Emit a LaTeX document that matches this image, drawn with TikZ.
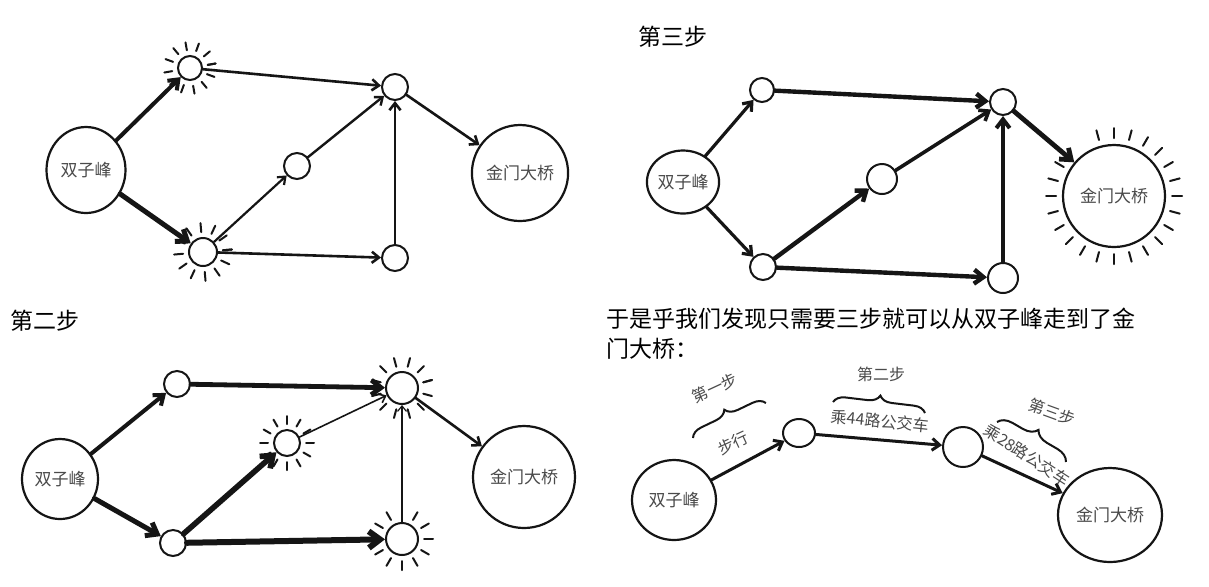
\documentclass[tikz,border=0pt]{standalone}
\usepackage{fontspec}
\newfontfamily\cjk{Noto Sans CJK SC}
\usepackage{tikz}
\usetikzlibrary{positioning, shapes.geometric, arrows.meta, calc, decorations.pathreplacing}
\usepackage{xcolor}
\definecolor{ink}{HTML}{151515}
\definecolor{pencil}{HTML}{4A4A4A}
\newcommand{\sunrays}[4]{\foreach \a in {#4} \draw[ray] (#1.center) ++(\a:#2) -- ++(\a:#3);}

\begin{document}
\begin{tikzpicture}[x=0.5pt, y=-0.5pt,
  place/.style={circle, draw=ink, line width=1pt, inner sep=0pt, fill=white},
  town/.style={ellipse, draw=ink, line width=1.1pt, inner sep=0pt, text=pencil, font=\cjk\fontsize{8.5}{10}\selectfont},
  hop/.style={draw=ink, line cap=round, line width=#1, -{Straight Barb[length=2pt 1.2, width=3.5pt 1.6]}},
  hop/.default=1.2pt,
  ray/.style={draw=ink, line width=1pt, line cap=round},
  steptitle/.style={font=\cjk\fontsize{11.5}{15}\selectfont, inner sep=0pt},
  hand/.style={font=\cjk\fontsize{8}{9}\selectfont, text=pencil, inner sep=0pt},
  curly/.style={draw=ink, line width=1pt, decorate, decoration={brace, amplitude=#1}},
]
\useasboundingbox[fill=white] (0,0) rectangle (1209,586);

% step one (top left)
\node[town, minimum width=39.5pt, minimum height=43pt] (a-peak) at (86,170) {双子峰};
\node[place, minimum size=12pt] (a-up) at (190,68) {};
\node[place, minimum size=14pt] (a-low) at (203,252) {};
\node[place, minimum size=13pt] (a-mid) at (297,166) {};
\node[place, minimum size=13pt] (a-hub) at (395,87) {};
\node[place, minimum size=13pt] (a-corner) at (395,258) {};
\node[town, minimum size=48pt] (a-bridge) at (520,173) {金门大桥};
\sunrays{a-up}{9pt}{4pt}{10,40,...,370}
\sunrays{a-low}{10pt}{4.5pt}{5,35,...,365}
\draw[hop=2pt] (a-peak) -- (a-up);
\draw[hop=2.5pt] (a-peak) -- (a-low);
\draw[hop=1.3pt] (a-up) -- (a-hub);
\draw[hop=1.1pt] (a-low) -- (a-mid);
\draw[hop=1.3pt] (a-low) -- (a-corner);
\draw[hop=1.2pt] (a-mid) -- (a-hub);
\draw[hop=1.3pt] (a-corner) -- (a-hub);
\draw[hop=1.3pt] (a-hub) -- (a-bridge);

% step two (bottom left)
\node[steptitle] (b-title) at (45,321) {第二步};
\node[town, minimum width=38pt, minimum height=40pt] (b-peak) at (60,479) {双子峰};
\node[place, minimum size=13pt] (b-up) at (177,384) {};
\node[place, minimum size=13pt] (b-low) at (173,543) {};
\node[place, minimum size=13pt] (b-mid) at (287,443) {};
\node[place, minimum size=16pt] (b-hub) at (402,388) {};
\node[place, minimum size=16pt] (b-corner) at (402,539) {};
\node[town, minimum size=51pt] (b-bridge) at (524,477) {金门大桥};
\sunrays{b-mid}{9.5pt}{4pt}{0,30,...,330}
\sunrays{b-hub}{11pt}{4.5pt}{15,45,...,375}
\sunrays{b-corner}{11pt}{4.5pt}{0,30,...,330}
\draw[hop=2pt] (b-peak) -- (b-up);
\draw[hop=2.5pt] (b-peak) -- (b-low);
\draw[hop=2.4pt] (b-up) -- (b-hub);
\draw[hop=2.8pt] (b-low) -- (b-mid);
\draw[hop=3pt] (b-low) -- (b-corner);
\draw[hop=0.8pt] (b-mid) -- (b-hub);
\draw[hop=0.6pt] (b-corner) -- (b-hub);
\draw[hop=1.3pt] (b-hub) -- (b-bridge);

% step three (top right)
\node[steptitle] (c-title) at (673,37) {第三步};
\node[town, minimum width=28.5pt, minimum height=31.5pt] (c-peak) at (683,182) {双子峰};
\node[place, minimum size=12pt] (c-up) at (762,90) {};
\node[place, minimum size=13pt] (c-low) at (763,267) {};
\node[place, minimum size=15pt] (c-mid) at (882,179) {};
\node[place, minimum size=13pt] (c-hub) at (1003,102) {};
\node[place, minimum size=15pt] (c-corner) at (1003,278) {};
\node[town, minimum size=51pt] (c-bridge) at (1114,196) {金门大桥};
\sunrays{c-bridge}{29pt}{5pt}{150,165,...,465}
\draw[hop=1.6pt] (c-peak) -- (c-up);
\draw[hop=1.6pt] (c-peak) -- (c-low);
\draw[hop=2.2pt] (c-up) -- (c-hub);
\draw[hop=2.2pt] (c-low) -- (c-mid);
\draw[hop=2.2pt] (c-low) -- (c-corner);
\draw[hop=1.8pt] (c-mid) -- (c-hub);
\draw[hop=2pt] (c-corner) -- (c-hub);
\draw[hop=2.4pt] (c-hub) -- (c-bridge);

% the whole route (bottom right)
\node[steptitle, anchor=north west, align=left] (d-text) at (606,308)
  {于是乎我们发现只需要三步就可以从双子峰走到了金\\门大桥：};
\node[town, minimum width=42pt, minimum height=40pt] (d-peak) at (674,500) {双子峰};
\node[place, minimum width=16pt, minimum height=14pt, ellipse] (d-stop1) at (799,433) {};
\node[place, minimum size=20pt] (d-stop2) at (963,447) {};
\node[town, minimum width=52pt, minimum height=47pt] (d-bridge) at (1110,515) {金门大桥};
\draw[hop=1.5pt] (d-peak) -- (d-stop1);
\draw[hop=1.5pt] (d-stop1) -- (d-stop2);
\draw[hop=1.5pt] (d-stop2) -- (d-bridge);
\node[hand, rotate=25] (d-walk) at (733,443) {步行};
\node[hand, rotate=-6] (d-bus44) at (880,421) {乘44路公交车};
\node[hand, rotate=-33] (d-bus28) at (1027,455) {乘28路公交车};
\coordinate (d-br1a) at (693,438);
\coordinate (d-br1b) at (766,403);
\coordinate (d-br2a) at (833,402);
\coordinate (d-br2b) at (925,413);
\coordinate (d-br3a) at (997,422);
\coordinate (d-br3b) at (1066,462);
\draw[curly=6pt] (d-br1a) -- (d-br1b);
\draw[curly=6pt] (d-br2a) -- (d-br2b);
\draw[curly=7pt] (d-br3a) -- (d-br3b);
\node[hand, rotate=25] (d-first) at (715,388) {第一步};
\node[hand] (d-second) at (881,374) {第二步};
\node[hand, rotate=-20] (d-third) at (1052,412) {第三步};
\end{tikzpicture}
\end{document}
